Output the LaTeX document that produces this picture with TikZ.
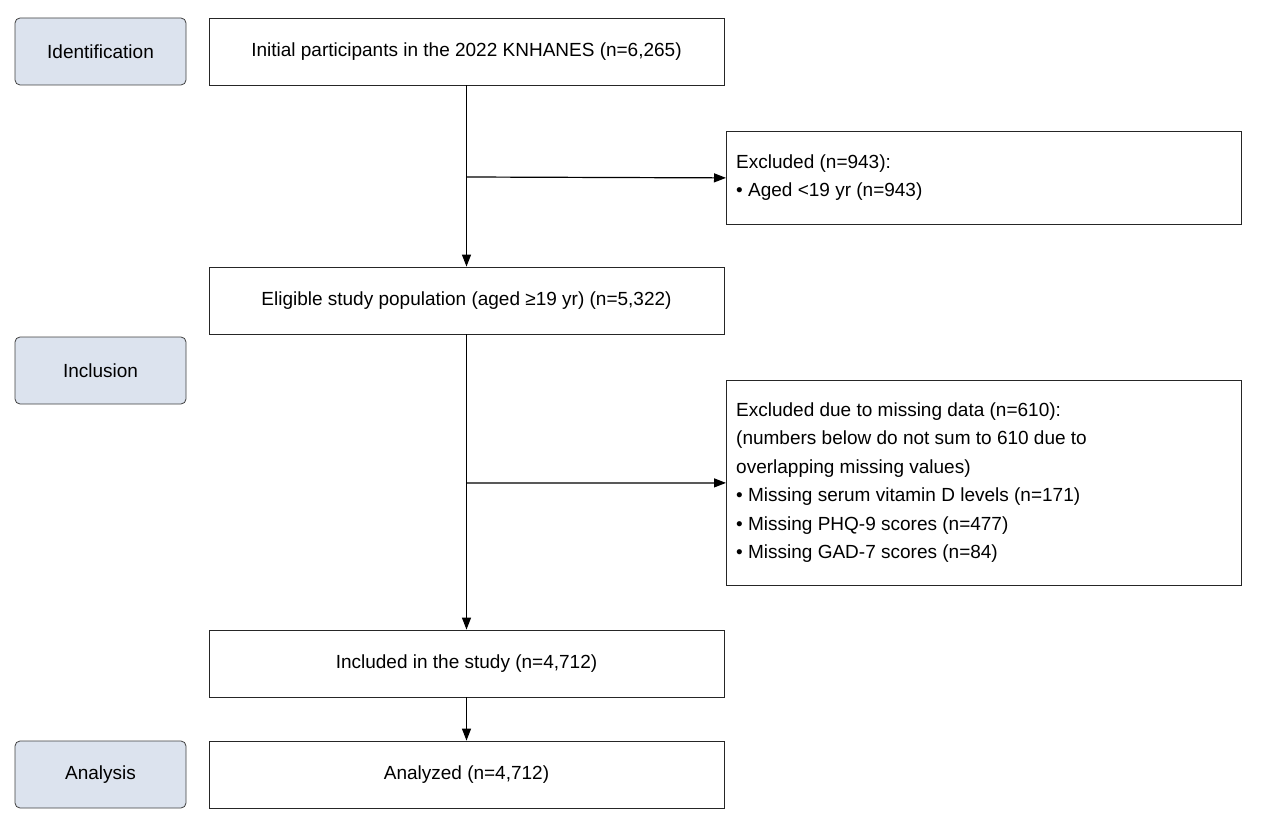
\documentclass[tikz,border=0pt]{standalone}
\usepackage{fontspec}
\setmainfont{Liberation Sans}
\usetikzlibrary{arrows.meta}
\definecolor{stage}{HTML}{DCE3EE}
\begin{document}
\begin{tikzpicture}[x=1pt,y=-1pt,
  stagebox/.style={draw=black!75,fill=stage,rounded corners=5pt,line width=0.8pt,minimum width=171pt,minimum height=67pt,font=\fontsize{19}{23}\selectfont},
  box/.style={draw=black!85,line width=0.8pt,minimum width=515pt,minimum height=67pt,font=\fontsize{19}{23}\selectfont},
  ex/.style={draw=black!85,line width=0.8pt,minimum width=515pt,align=left,text width=495pt,font=\fontsize{19}{25}\selectfont,anchor=north west,inner sep=0pt},
  arr/.style={line width=1.2pt,-{Triangle[length=12pt,width=9pt]}}]
\useasboundingbox (0,0) rectangle (1264,821);
\node[stagebox] (s1) at (100.5,51.5) {Identification};
\node[stagebox] (s2) at (100.5,370.5) {Inclusion};
\node[stagebox] (s3) at (100.5,774.5) {Analysis};
\node[box] (b1) at (466.5,51.5) {Initial participants in the 2022 KNHANES (n=6,265)};
\node[box] (b2) at (466.5,300.5) {Eligible study population (aged ≥19 yr) (n=5,322)};
\node[box] (b3) at (466.5,663.5) {Included in the study (n=4,712)};
\node[box] (b4) at (466.5,774.5) {Analyzed (n=4,712)};
\node[draw=black!85,line width=0.8pt,minimum width=515pt,minimum height=93pt,anchor=north west] (e1) at (726,131) {};
\node[anchor=west,align=left,font=\fontsize{19}{28}\selectfont,inner sep=0pt] (t1) at (736,177.5) {Excluded (n=943):\\• Aged <19 yr (n=943)};
\node[draw=black!85,line width=0.8pt,minimum width=515pt,minimum height=205pt,anchor=north west] (e2) at (726,380) {};
\node[anchor=west,align=left,font=\fontsize{19}{28.5}\selectfont,inner sep=0pt] (t2) at (736,482.5) {Excluded due to missing data (n=610):\\(numbers below do not sum to 610 due to\\overlapping missing values)\\• Missing serum vitamin D levels (n=171)\\• Missing PHQ-9 scores (n=477)\\• Missing GAD-7 scores (n=84)};
\coordinate (j1) at (467,177);
\coordinate (j2) at (467,483);
\draw[arr] (b1.south) -- (b2.north);
\draw[arr] (b2.south) -- (b3.north);
\draw[arr] (b3.south) -- (b4.north);
\draw[arr] (j1) -- (e1.west);
\draw[arr] (j2) -- (e2.west);
\end{tikzpicture}
\end{document}
